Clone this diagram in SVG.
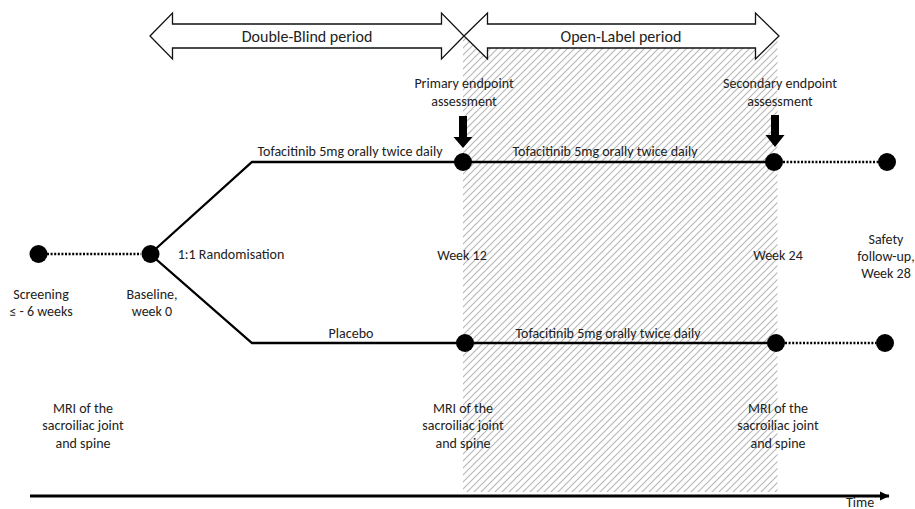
<svg xmlns="http://www.w3.org/2000/svg" width="915" height="509" viewBox="0 0 915 509">
<style>
text{font-family:Carlito,Lato,"Liberation Sans",sans-serif;font-size:14px;fill:#222;text-anchor:middle;dominant-baseline:central}
.big{font-size:16px}
.ln{stroke:#000;stroke-width:2.3;fill:none}
.dot{stroke:#000;stroke-width:2.5;stroke-dasharray:2 1.6;fill:none}
.node{fill:#000}
.per{fill:#fff;stroke:#111;stroke-width:1.3}
.down{fill:#000}
</style>
<defs>
<pattern id="hatch" patternUnits="userSpaceOnUse" width="7" height="7">
<path d="M-1,1 l2,-2 M0,7 l7,-7 M6,8 l2,-2" stroke="#b8b8b8" stroke-width="1.2"/>
</pattern>
<marker id="tarrow" markerWidth="10" markerHeight="10" refX="9" refY="5" orient="auto" markerUnits="userSpaceOnUse">
<path d="M0,0.5 L9.5,5 L0,9.5 Z" fill="#000"/>
</marker>
</defs>
<rect id="open-label-shade" x="463" y="36" width="314.5" height="456" fill="url(#hatch)"/>
<g id="periods">
<g id="double-blind">
<path class="per" d="M150,36 L172.5,13 L172.5,24 L441.5,24 L441.5,13 L464,36 L441.5,59 L441.5,48 L172.5,48 L172.5,59 Z"/>
<text class="big" x="307" y="36">Double-Blind period</text>
</g>
<g id="open-label">
<path class="per" d="M464,36 L487.5,13 L487.5,24 L755.5,24 L755.5,13 L779,36 L755.5,59 L755.5,48 L487.5,48 L487.5,59 Z"/>
<text class="big" x="621" y="36">Open-Label period</text>
</g>
</g>
<g id="connectors">
<path class="dot" d="M47,254 H141"/>
<path class="ln" d="M150,254 L252,162 H774"/>
<path class="ln" d="M150,254 L252,343 H776"/>
<path class="dot" d="M783,162 H878"/>
<path class="dot" d="M785,343 H876"/>
<path d="M30,496 H889" stroke="#000" stroke-width="3" marker-end="url(#tarrow)"/>
</g>
<g id="screening"><circle class="node" cx="38.5" cy="254" r="9"/><text x="41" y="294">Screening</text><text x="41" y="311">≤ - 6 weeks</text></g>
<g id="baseline"><circle class="node" cx="150.5" cy="254" r="9"/><text x="152" y="294">Baseline,</text><text x="152" y="311">week 0</text></g>
<text x="231" y="254">1:1 Randomisation</text>
<text x="350" y="151">Tofacitinib 5mg orally twice daily</text>
<text x="605" y="151">Tofacitinib 5mg orally twice daily</text>
<text x="351" y="333">Placebo</text>
<text x="608" y="333">Tofacitinib 5mg orally twice daily</text>
<g id="week12-top"><circle class="node" cx="463" cy="162" r="9"/></g>
<g id="week12-bottom"><circle class="node" cx="465" cy="343" r="9"/></g>
<g id="week24-top"><circle class="node" cx="774" cy="162" r="9"/></g>
<g id="week24-bottom"><circle class="node" cx="776" cy="343" r="9"/></g>
<g id="week28-top"><circle class="node" cx="887" cy="162" r="9"/></g>
<g id="week28-bottom"><circle class="node" cx="885" cy="343" r="9"/></g>
<g id="primary-endpoint">
<text x="464" y="83">Primary endpoint</text><text x="464" y="101">assessment</text>
<path class="down" d="M459,116 H467 V137 H472.5 L463,148 L453.5,137 H459 Z"/>
</g>
<g id="secondary-endpoint">
<text x="780" y="83">Secondary endpoint</text><text x="780" y="101">assessment</text>
<path class="down" d="M771,115 H779 V135 H784.5 L775,147 L765.5,135 H771 Z"/>
</g>
<text x="462" y="255">Week 12</text>
<text x="778" y="255">Week 24</text>
<g id="safety"><text x="886" y="239">Safety</text><text x="886" y="256">follow-up,</text><text x="886" y="273">Week 28</text></g>
<g id="mri-0"><text x="83" y="408">MRI of the</text><text x="83" y="425">sacroiliac joint</text><text x="83" y="443">and spine</text></g>
<g id="mri-12"><text x="463" y="408">MRI of the</text><text x="463" y="425">sacroiliac joint</text><text x="463" y="443">and spine</text></g>
<g id="mri-24"><text x="778" y="408">MRI of the</text><text x="778" y="425">sacroiliac joint</text><text x="778" y="443">and spine</text></g>
<text x="860" y="502">Time</text>
</svg>
